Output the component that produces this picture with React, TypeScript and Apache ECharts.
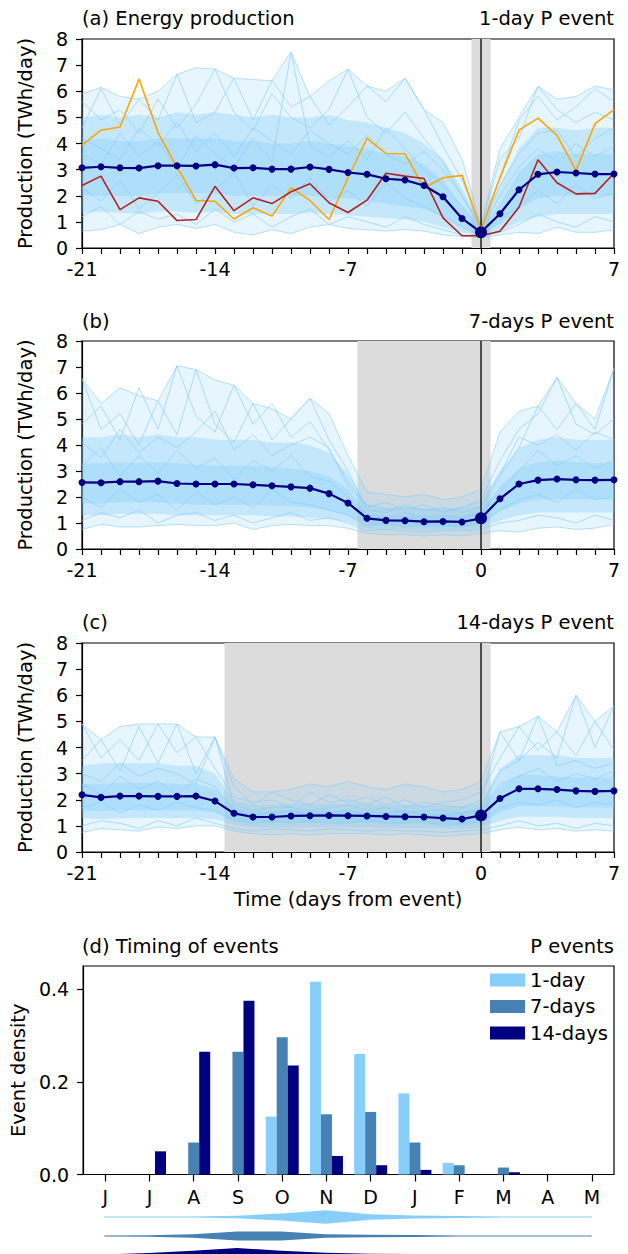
import React, { useEffect, useRef } from "react";
import * as echarts from "echarts";

// ---- Panel (a)-(c) data: days from event ----
const days = [-21, -20, -19, -18, -17, -16, -15, -14, -13, -12, -11, -10, -9, -8, -7, -6, -5, -4, -3, -2, -1, 0, 1, 2, 3, 4, 5, 6, 7];
const xTickLabels = [-21, -14, -7, 0, 7];

// Panel (a) 1-day P event
const aMean = [3.07, 3.11, 3.07, 3.06, 3.15, 3.15, 3.14, 3.19, 3.06, 3.07, 3.02, 3.02, 3.1, 3.01, 2.89, 2.82, 2.65, 2.6, 2.39, 1.96, 1.13, 0.6, 1.31, 2.23, 2.82, 2.91, 2.87, 2.83, 2.83];
const aOrange = [3.94, 4.51, 4.63, 6.47, 4.42, 3.1, 1.82, 1.79, 1.11, 1.54, 1.22, 2.3, 1.82, 1.09, 2.69, 4.2, 3.62, 3.61, 2.3, 2.69, 2.78, 0.7, 2.7, 4.51, 4.97, 4.31, 2.97, 4.76, 5.3];
const aRed = [2.39, 2.75, 1.47, 1.92, 1.79, 1.05, 1.09, 2.36, 1.43, 1.92, 1.7, 2.15, 2.46, 1.73, 1.36, 1.83, 2.86, 2.75, 2.66, 1.15, 0.47, 0.47, 0.64, 1.56, 3.38, 2.5, 2.07, 2.09, 2.86];
const aMax = [5.9, 6.15, 5.8, 5.7, 6.0, 6.65, 6.9, 6.85, 6.5, 6.45, 6.4, 7.5, 5.8, 6.4, 6.85, 6.2, 6.0, 6.5, 5.3, 4.8, 3.4, 0.9, 3.8, 5.0, 6.2, 5.7, 5.8, 6.2, 6.05];
const aP90 = [5.0, 5.1, 5.0, 5.1, 5.0, 5.2, 5.1, 5.2, 5.1, 5.0, 5.1, 5.0, 5.0, 5.1, 4.9, 4.8, 4.6, 4.4, 4.0, 3.4, 2.3, 0.85, 2.4, 3.8, 4.6, 4.6, 4.5, 4.6, 4.6];
const aP75 = [4.1, 4.2, 4.1, 4.1, 4.2, 4.2, 4.2, 4.2, 4.1, 4.1, 4.0, 4.0, 4.1, 4.0, 3.9, 3.8, 3.6, 3.5, 3.2, 2.6, 1.6, 0.72, 1.7, 2.9, 3.6, 3.7, 3.6, 3.6, 3.6];
const aP25 = [2.0, 2.0, 2.0, 2.0, 2.1, 2.1, 2.1, 2.1, 2.0, 2.0, 2.0, 2.0, 2.0, 1.9, 1.9, 1.8, 1.7, 1.6, 1.5, 1.2, 0.8, 0.5, 0.9, 1.5, 1.9, 2.0, 2.0, 2.0, 2.0];
const aP10 = [1.35, 1.4, 1.35, 1.3, 1.4, 1.4, 1.35, 1.4, 1.3, 1.3, 1.3, 1.3, 1.35, 1.3, 1.25, 1.2, 1.15, 1.1, 1.0, 0.8, 0.6, 0.45, 0.65, 1.0, 1.2, 1.3, 1.3, 1.3, 1.3];
const aMin = [0.65, 0.7, 0.9, 0.55, 0.8, 0.9, 0.75, 0.9, 0.6, 0.5, 0.7, 0.55, 0.8, 0.9, 0.75, 0.7, 0.65, 0.7, 0.65, 0.5, 0.45, 0.4, 0.5, 0.6, 0.55, 0.8, 0.6, 0.6, 0.7];
const aShade = [-0.5, 0.5];
const aTraces = [
  [5.6, 4.9, 5.3, 4.4, 5.7, 4.6, 5.5, 6.85, 5.2, 4.5, 5.9, 5.0, 4.6, 5.3, 6.85, 5.0, 4.4, 5.2, 4.2, 3.3, 2.0, 0.8, 2.7, 4.9, 5.8, 4.9, 5.4, 6.1, 5.6],
  [4.6, 6.1, 4.7, 5.7, 4.9, 6.65, 4.8, 5.2, 6.5, 4.9, 6.4, 5.4, 5.8, 4.7, 5.4, 6.2, 5.6, 6.5, 5.3, 3.9, 2.6, 0.9, 3.4, 4.2, 6.2, 5.3, 4.8, 5.2, 4.9],
  [3.6, 3.2, 4.4, 3.5, 4.1, 3.0, 4.3, 3.6, 3.1, 4.2, 3.3, 7.5, 3.9, 3.5, 4.1, 3.4, 4.6, 3.8, 3.0, 2.4, 1.6, 0.7, 2.0, 3.1, 3.8, 3.3, 4.0, 3.5, 3.9],
  [2.3, 1.8, 2.6, 1.5, 2.1, 2.8, 1.7, 2.2, 2.9, 1.6, 2.4, 1.9, 2.7, 1.8, 2.2, 1.6, 2.5, 1.9, 1.6, 1.2, 0.8, 0.5, 1.1, 1.6, 2.2, 1.7, 2.4, 1.9, 2.1],
  [1.2, 1.6, 0.9, 1.4, 1.1, 1.3, 0.9, 1.5, 1.0, 1.3, 0.8, 1.2, 1.5, 0.9, 1.2, 1.0, 0.8, 1.2, 0.9, 0.7, 0.5, 0.45, 0.6, 0.9, 1.3, 1.0, 0.8, 1.2, 1.0],
  [4.2, 3.8, 3.4, 4.6, 3.9, 4.8, 3.7, 4.4, 3.5, 4.6, 4.1, 3.6, 4.5, 4.0, 3.6, 4.3, 3.6, 3.2, 3.7, 3.0, 2.0, 0.75, 2.4, 3.6, 4.4, 4.5, 3.5, 4.2, 4.6],
];

// Panel (b) 7-days P event
const bMean = [2.56, 2.55, 2.59, 2.59, 2.61, 2.52, 2.5, 2.5, 2.5, 2.47, 2.43, 2.39, 2.34, 2.13, 1.77, 1.18, 1.1, 1.09, 1.05, 1.06, 1.04, 1.18, 1.93, 2.5, 2.65, 2.69, 2.66, 2.65, 2.66];
const bMax = [6.55, 5.6, 6.2, 5.9, 5.7, 7.05, 6.9, 6.5, 6.3, 5.6, 5.4, 5.0, 5.8, 5.2, 3.6, 2.2, 2.1, 2.0, 2.1, 1.9, 2.0, 2.3, 4.5, 5.3, 5.5, 6.6, 5.6, 5.0, 6.95];
const bP90 = [4.3, 4.3, 4.4, 4.3, 4.4, 4.3, 4.3, 4.2, 4.2, 4.2, 4.1, 4.1, 4.0, 3.7, 2.9, 1.7, 1.6, 1.6, 1.55, 1.55, 1.55, 1.7, 3.0, 3.9, 4.2, 4.3, 4.2, 4.2, 4.2];
const bP75 = [3.3, 3.3, 3.35, 3.3, 3.35, 3.3, 3.25, 3.2, 3.2, 3.2, 3.15, 3.1, 3.0, 2.8, 2.3, 1.4, 1.3, 1.3, 1.3, 1.3, 1.3, 1.45, 2.4, 3.1, 3.35, 3.4, 3.35, 3.3, 3.35];
const bP25 = [1.75, 1.75, 1.8, 1.8, 1.8, 1.75, 1.7, 1.7, 1.7, 1.7, 1.65, 1.65, 1.6, 1.5, 1.3, 0.95, 0.9, 0.9, 0.85, 0.85, 0.85, 0.95, 1.45, 1.75, 1.9, 1.9, 1.9, 1.9, 1.9];
const bP10 = [1.3, 1.3, 1.35, 1.35, 1.35, 1.3, 1.3, 1.3, 1.3, 1.3, 1.25, 1.25, 1.2, 1.15, 1.05, 0.78, 0.75, 0.75, 0.72, 0.72, 0.72, 0.8, 1.1, 1.3, 1.4, 1.4, 1.4, 1.4, 1.4];
const bMin = [0.75, 0.95, 0.85, 0.85, 0.9, 0.95, 0.9, 0.9, 1.0, 0.75, 0.9, 0.95, 0.9, 0.9, 0.8, 0.6, 0.55, 0.55, 0.5, 0.55, 0.5, 0.6, 0.7, 0.65, 0.8, 0.85, 0.75, 0.8, 0.95];
const bShade = [-6.5, 0.5];
const bTraces = [
  [4.8, 5.5, 4.2, 6.2, 4.6, 7.05, 5.1, 4.5, 6.3, 4.8, 5.6, 4.3, 4.9, 3.8, 2.6, 1.6, 1.8, 1.5, 1.7, 1.4, 1.6, 1.9, 3.4, 4.6, 5.2, 6.6, 4.8, 4.4, 5.0],
  [6.55, 4.6, 5.2, 4.0, 5.7, 4.4, 6.9, 4.8, 4.1, 5.6, 4.2, 5.0, 5.8, 4.2, 3.0, 1.5, 1.4, 1.7, 1.5, 1.6, 1.4, 1.6, 2.8, 3.9, 5.5, 4.6, 5.6, 4.6, 6.95],
  [3.2, 3.9, 2.8, 3.6, 2.9, 3.8, 3.1, 3.5, 2.7, 3.4, 3.0, 3.6, 2.8, 2.6, 2.0, 1.3, 1.2, 1.4, 1.2, 1.3, 1.2, 1.4, 2.2, 3.0, 3.8, 3.2, 3.6, 3.1, 3.4],
  [2.0, 1.6, 2.3, 1.8, 2.1, 1.5, 2.2, 1.7, 2.0, 1.6, 2.3, 1.8, 1.7, 1.5, 1.3, 0.9, 1.0, 0.85, 0.95, 0.9, 0.85, 1.0, 1.5, 1.9, 2.1, 1.8, 2.3, 1.9, 2.0],
  [1.1, 1.4, 1.2, 1.5, 1.0, 1.3, 1.4, 1.1, 1.3, 1.0, 1.2, 1.4, 1.1, 1.2, 1.0, 0.7, 0.75, 0.7, 0.65, 0.7, 0.7, 0.75, 1.0, 1.1, 1.3, 1.2, 1.0, 1.3, 1.1],
  [4.1, 3.5, 4.6, 3.7, 4.3, 3.9, 4.5, 5.3, 3.8, 4.4, 3.6, 4.0, 4.3, 3.9, 2.4, 1.7, 1.5, 1.6, 1.5, 1.5, 1.6, 1.8, 2.9, 4.3, 4.0, 4.4, 3.8, 4.5, 4.2],
];

// Panel (c) 14-days P event
const cMean = [2.19, 2.09, 2.14, 2.14, 2.13, 2.13, 2.14, 1.95, 1.48, 1.34, 1.34, 1.38, 1.39, 1.4, 1.39, 1.38, 1.36, 1.35, 1.34, 1.3, 1.26, 1.4, 2.05, 2.42, 2.42, 2.39, 2.34, 2.32, 2.34];
const cMax = [4.9, 4.3, 4.8, 4.9, 4.9, 4.9, 4.4, 4.4, 2.8, 2.3, 2.3, 2.4, 2.6, 2.5, 2.7, 2.5, 2.4, 2.6, 2.5, 2.3, 2.4, 2.7, 4.6, 4.8, 5.2, 4.6, 6.0, 5.0, 5.6];
const cP90 = [3.3, 3.4, 3.4, 3.4, 3.4, 3.3, 3.3, 3.0, 1.95, 1.8, 1.8, 1.85, 1.85, 1.85, 1.85, 1.85, 1.8, 1.8, 1.8, 1.75, 1.75, 1.9, 3.2, 3.7, 3.7, 3.7, 3.6, 3.6, 3.6];
const cP75 = [2.6, 2.6, 2.65, 2.65, 2.65, 2.6, 2.6, 2.4, 1.7, 1.55, 1.55, 1.6, 1.6, 1.6, 1.6, 1.6, 1.55, 1.55, 1.55, 1.5, 1.5, 1.65, 2.5, 2.95, 2.95, 2.9, 2.85, 2.85, 2.85];
const cP25 = [1.6, 1.55, 1.6, 1.6, 1.6, 1.6, 1.6, 1.5, 1.2, 1.1, 1.1, 1.12, 1.12, 1.14, 1.12, 1.12, 1.1, 1.1, 1.08, 1.05, 1.02, 1.1, 1.5, 1.75, 1.75, 1.75, 1.7, 1.7, 1.7];
const cP10 = [1.3, 1.25, 1.3, 1.3, 1.3, 1.3, 1.3, 1.25, 1.05, 0.95, 0.95, 0.95, 0.95, 0.97, 0.95, 0.95, 0.93, 0.93, 0.92, 0.9, 0.88, 0.95, 1.2, 1.35, 1.35, 1.35, 1.3, 1.3, 1.3];
const cMin = [0.75, 0.9, 0.85, 0.8, 0.95, 0.9, 1.0, 1.0, 0.8, 0.7, 0.65, 0.7, 0.65, 0.7, 0.7, 0.7, 0.65, 0.7, 0.65, 0.6, 0.65, 0.7, 0.85, 0.95, 0.85, 0.9, 0.8, 0.85, 0.8];
const cShade = [-13.5, 0.5];
const cTraces = [
  [4.9, 3.6, 4.3, 3.5, 4.9, 3.8, 4.4, 3.2, 2.1, 1.9, 2.0, 1.7, 2.3, 1.9, 2.0, 1.8, 2.1, 1.7, 1.9, 1.8, 1.7, 2.0, 4.6, 3.5, 4.2, 3.6, 6.0, 4.0, 5.6],
  [3.5, 4.3, 3.1, 4.8, 3.4, 4.9, 3.0, 4.4, 2.5, 1.8, 2.3, 2.0, 1.8, 2.2, 1.9, 2.1, 1.8, 2.0, 1.7, 1.9, 2.0, 2.3, 3.6, 4.8, 3.9, 4.6, 3.7, 5.0, 3.9],
  [2.6, 2.2, 2.9, 2.4, 2.7, 2.2, 2.8, 2.5, 1.6, 1.4, 1.5, 1.6, 1.4, 1.5, 1.6, 1.4, 1.5, 1.6, 1.4, 1.4, 1.5, 1.6, 2.6, 2.9, 3.2, 2.7, 3.0, 2.8, 3.1],
  [1.7, 1.9, 1.5, 1.8, 1.6, 1.9, 1.7, 1.6, 1.2, 1.1, 1.2, 1.1, 1.2, 1.1, 1.1, 1.2, 1.1, 1.1, 1.2, 1.0, 1.1, 1.2, 1.7, 1.9, 1.8, 2.0, 1.7, 1.9, 1.8],
  [1.0, 1.2, 1.1, 0.9, 1.2, 1.0, 1.3, 1.1, 0.9, 0.8, 0.9, 0.85, 0.8, 0.9, 0.85, 0.8, 0.85, 0.8, 0.8, 0.75, 0.8, 0.85, 1.0, 1.2, 1.0, 1.1, 0.9, 1.1, 1.0],
  [3.0, 2.7, 3.4, 2.9, 3.2, 3.0, 2.6, 4.4, 1.8, 1.6, 1.7, 1.7, 1.6, 1.7, 1.8, 1.6, 1.7, 1.5, 1.6, 1.6, 1.5, 1.7, 3.1, 3.5, 5.2, 3.3, 3.5, 3.2, 3.4],
];

// ---- Panel (d) timing of events ----
const months = ["J", "J", "A", "S", "O", "N", "D", "J", "F", "M", "A", "M"];
const seriesNames = ["1-day", "7-days", "14-days"];
const oneDay = [0, 0, 0, 0, 0.125, 0.416, 0.26, 0.175, 0.025, 0, 0, 0];
const sevenDays = [0, 0, 0.069, 0.265, 0.296, 0.13, 0.135, 0.069, 0.02, 0.015, 0, 0];
const fourteenDays = [0, 0.05, 0.265, 0.375, 0.235, 0.04, 0.02, 0.01, 0, 0.005, 0, 0];
const densityTicks = [0, 0.2, 0.4];
// violin half-widths (relative density) per month
const violin1 = [0.4, 0.4, 0.5, 1.3, 3.5, 6.8, 2.7, 1.6, 0.9, 0.5, 0.4, 0.4];
const violin7 = [0.4, 0.7, 1.8, 4.5, 4.6, 1.8, 1.3, 1.0, 0.6, 0.5, 0.4, 0.4];
const violin14 = [0.5, 2.0, 4.3, 7.0, 4.3, 2.3, 1.3, 1.0, 0.7, 0.5, 0.4, 0.4];

const C1 = "#87CEFA";
const C7 = "#4682B4";
const C14 = "#000080";
const FONT = "DejaVu Sans";
const TICK_FS = 19;
const TITLE_FS = 19.5;

function bandSeries(g: number, upper: number[], lower: number[], opacity: number, z: number) {
  return {
    type: "custom",
    xAxisIndex: g,
    yAxisIndex: g,
    silent: true,
    z,
    data: [[0, 0]],
    renderItem: (_p: any, api: any) => {
      const pts: number[][] = [];
      for (let i = 0; i < days.length; i++) pts.push(api.coord([days[i], upper[i]]));
      for (let i = days.length - 1; i >= 0; i--) pts.push(api.coord([days[i], lower[i]]));
      return { type: "polygon", shape: { points: pts }, style: { fill: C1, opacity } };
    },
  };
}

function traceLine(g: number, vals: number[], color: string, width: number, opacity: number, z: number) {
  return {
    type: "line",
    xAxisIndex: g,
    yAxisIndex: g,
    data: days.map((d, i) => [d, vals[i]]),
    symbol: "none",
    silent: true,
    z,
    lineStyle: { color, width, opacity },
  };
}

function panel(g: number, p: any) {
  return [
    {
      type: "custom",
      xAxisIndex: g,
      yAxisIndex: g,
      silent: true,
      z: 1,
      data: [[0, 0]],
      renderItem: (_p: any, api: any) => {
        const a = api.coord([p.shade[0], 8]);
        const b = api.coord([p.shade[1], 0]);
        return { type: "rect", shape: { x: a[0], y: a[1], width: b[0] - a[0], height: b[1] - a[1] }, style: { fill: "#dcdcdc" } };
      },
    },
    bandSeries(g, p.max, p.min, 0.2, 2),
    bandSeries(g, p.p90, p.p10, 0.35, 2),
    bandSeries(g, p.p75, p.p25, 0.35, 2),
    traceLine(g, p.max, C1, 1, 0.6, 3),
    traceLine(g, p.min, C1, 1, 0.6, 3),
    ...p.traces.map((t: number[]) => traceLine(g, t, C1, 1, 0.65, 3)),
    {
      type: "custom",
      xAxisIndex: g,
      yAxisIndex: g,
      silent: true,
      z: 4,
      data: [[0, 0]],
      renderItem: (_p: any, api: any) => {
        const a = api.coord([0, 8]);
        const b = api.coord([0, 0]);
        return { type: "line", shape: { x1: a[0], y1: a[1], x2: b[0], y2: b[1] }, style: { stroke: "#000", lineWidth: 1.3 } };
      },
    },
    ...(p.extra || []),
    {
      type: "line",
      xAxisIndex: g,
      yAxisIndex: g,
      data: days.map((d, i) => [d, p.mean[i]]),
      symbol: "circle",
      symbolSize: (_v: any, prm: any) => (prm.dataIndex === 21 ? 12 : 7),
      itemStyle: { color: C14 },
      lineStyle: { color: C14, width: 2.2 },
      z: 6,
      silent: true,
    },
  ];
}

const axisCommon = {
  axisLine: { show: true, onZero: false, lineStyle: { color: "#000", width: 1.2 } },
  axisTick: { show: true, inside: false, length: 6, lineStyle: { color: "#000", width: 1.2 } },
  splitLine: { show: false },
  axisLabel: { color: "#000", fontSize: TICK_FS, fontFamily: FONT },
};

function dayAxis(g: number, withName: boolean) {
  return {
    type: "value",
    gridIndex: g,
    min: -21,
    max: 7,
    interval: 1,
    ...axisCommon,
    axisLabel: { ...axisCommon.axisLabel, margin: 11, customValues: xTickLabels },
    name: withName ? "Time (days from event)" : "",
    nameLocation: "middle",
    nameGap: 37,
    nameTextStyle: { color: "#000", fontSize: TITLE_FS, fontFamily: FONT },
  };
}

function prodAxis(g: number) {
  return {
    type: "value",
    gridIndex: g,
    min: 0,
    max: 8,
    interval: 1,
    ...axisCommon,
    axisLabel: { ...axisCommon.axisLabel, margin: 14 },
    name: "Production (TWh/day)",
    nameLocation: "middle",
    nameGap: 47,
    nameTextStyle: { color: "#000", fontSize: TITLE_FS, fontFamily: FONT },
  };
}

function titleText(text: string, top: number, side: "left" | "right") {
  const pos: any = side === "left" ? { left: 82 } : { right: 14 };
  return { type: "text", ...pos, top, style: { text, font: `${TITLE_FS}px "${FONT}"`, fill: "#000" } };
}

export default function App() {
  const ref = useRef<HTMLDivElement>(null);
  useEffect(() => {
    document.body.style.margin = "0";
    const chart = echarts.init(ref.current!, undefined, { renderer: "svg" });
    const gridBase = { left: 82, right: 14, show: true, borderColor: "#000", borderWidth: 1.2, backgroundColor: "transparent" };
    const violinData = [violin1, violin7, violin14];
    const violinColors = [C1, C7, C14];
    const option: any = {
      animation: false,
      backgroundColor: "#fff",
      textStyle: { fontFamily: FONT },
      grid: [
        { ...gridBase, top: 39, height: 209 },
        { ...gridBase, top: 341, height: 208 },
        { ...gridBase, top: 643, height: 209 },
        { ...gridBase, top: 966, height: 208.5 },
        { left: 82, right: 14, top: 1207.5, height: 46.5, show: false },
      ],
      xAxis: [
        dayAxis(0, false),
        dayAxis(1, false),
        dayAxis(2, true),
        {
          type: "category",
          gridIndex: 3,
          data: months,
          boundaryGap: true,
          ...axisCommon,
          axisTick: { ...axisCommon.axisTick, alignWithLabel: true, length: 7 },
          axisLabel: { ...axisCommon.axisLabel, margin: 13 },
        },
        { type: "category", gridIndex: 4, data: months, boundaryGap: true, show: false },
      ],
      yAxis: [
        prodAxis(0),
        prodAxis(1),
        prodAxis(2),
        {
          type: "value",
          gridIndex: 3,
          min: 0,
          max: 0.45,
          interval: 0.2,
          ...axisCommon,
          axisTick: { ...axisCommon.axisTick, customValues: densityTicks },
          axisLabel: { ...axisCommon.axisLabel, margin: 14, customValues: densityTicks, formatter: (v: number) => v.toFixed(1) },
          name: "Event density",
          nameLocation: "middle",
          nameGap: 47,
          nameTextStyle: { color: "#000", fontSize: TITLE_FS, fontFamily: FONT },
        },
        { type: "value", gridIndex: 4, min: -0.5, max: 1.947, inverse: true, show: false },
      ],
      legend: {
        data: seriesNames,
        orient: "vertical",
        left: 490,
        top: 970,
        padding: 0,
        itemWidth: 35,
        itemHeight: 13,
        itemGap: 6.5,
        icon: "rect",
        textStyle: { color: "#000", fontSize: TITLE_FS, fontFamily: FONT },
      },
      graphic: [
        titleText("(a) Energy production", 8, "left"),
        titleText("1-day P event", 8, "right"),
        titleText("(b)", 311, "left"),
        titleText("7-days P event", 311, "right"),
        titleText("(c)", 612, "left"),
        titleText("14-days P event", 612, "right"),
        titleText("(d) Timing of events", 936, "left"),
        titleText("P events", 936, "right"),
      ],
      series: [
        ...panel(0, {
          mean: aMean, max: aMax, p90: aP90, p75: aP75, p25: aP25, p10: aP10, min: aMin, shade: aShade, traces: aTraces,
          extra: [traceLine(0, aOrange, "#FFA500", 1.6, 1, 5), traceLine(0, aRed, "#B22222", 1.6, 1, 5)],
        }),
        ...panel(1, { mean: bMean, max: bMax, p90: bP90, p75: bP75, p25: bP25, p10: bP10, min: bMin, shade: bShade, traces: bTraces }),
        ...panel(2, { mean: cMean, max: cMax, p90: cP90, p75: cP75, p25: cP25, p10: cP10, min: cMin, shade: cShade, traces: cTraces }),
        { name: "1-day", type: "bar", xAxisIndex: 3, yAxisIndex: 3, data: oneDay, barWidth: 11, barGap: "0%", itemStyle: { color: C1 } },
        { name: "7-days", type: "bar", xAxisIndex: 3, yAxisIndex: 3, data: sevenDays, barWidth: 11, barGap: "0%", itemStyle: { color: C7 } },
        { name: "14-days", type: "bar", xAxisIndex: 3, yAxisIndex: 3, data: fourteenDays, barWidth: 11, barGap: "0%", itemStyle: { color: C14 } },
        {
          type: "custom",
          xAxisIndex: 4,
          yAxisIndex: 4,
          silent: true,
          clip: false,
          data: [[0, 0], [0, 1], [0, 2]],
          renderItem: (params: any, api: any) => {
            const row = params.dataIndex;
            const w = violinData[row];
            const top: number[][] = [];
            const bot: number[][] = [];
            for (let m = 0; m < months.length; m++) {
              const c = api.coord([m, row]);
              top.push([c[0], c[1] - w[m]]);
              bot.unshift([c[0], c[1] + w[m]]);
            }
            return { type: "polygon", shape: { points: top.concat(bot) }, style: { fill: violinColors[row] } };
          },
        },
      ],
    };
    chart.setOption(option);
    return () => chart.dispose();
  }, []);
  return <div ref={ref} style={{ width: 628, height: 1254 }} />;
}
